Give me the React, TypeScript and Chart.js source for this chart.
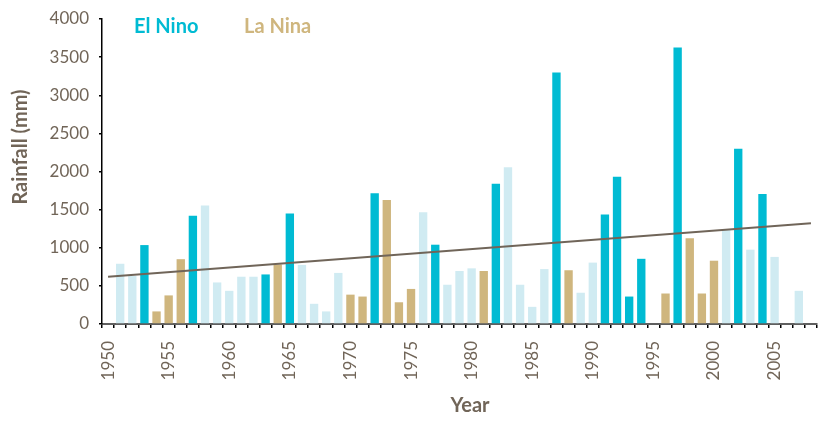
import React, { useEffect, useRef } from "react";
import { Chart, registerables } from "chart.js";

Chart.register(...registerables);

const years = [
  1950, 1951, 1952, 1953, 1954, 1955, 1956, 1957, 1958, 1959,
  1960, 1961, 1962, 1963, 1964, 1965, 1966, 1967, 1968, 1969,
  1970, 1971, 1972, 1973, 1974, 1975, 1976, 1977, 1978, 1979,
  1980, 1981, 1982, 1983, 1984, 1985, 1986, 1987, 1988, 1989,
  1990, 1991, 1992, 1993, 1994, 1995, 1996, 1997, 1998, 1999,
  2000, 2001, 2002, 2003, 2004, 2005, 2006, 2007, 2008,
];

const rainfall = [
  null, 790, 630, 1035, 165, 375, 850, 1420, 1555, 545,
  435, 620, 620, 650, 780, 1450, 775, 265, 165, 670,
  385, 360, 1715, 1625, 285, 460, 1465, 1040, 515, 695,
  730, 695, 1840, 2055, 515, 225, 720, 3300, 705, 410,
  805, 1435, 1930, 360, 855, null, 400, 3625, 1125, 400,
  830, 1235, 2300, 975, 1705, 880, null, 435, null,
];

// E = El Nino, N = La Nina, "-" = neutral
const phase = [
  "-", "-", "-", "E", "N", "N", "N", "E", "-", "-",
  "-", "-", "-", "E", "N", "E", "-", "-", "-", "-",
  "N", "N", "E", "N", "N", "N", "-", "E", "-", "-",
  "-", "N", "E", "-", "-", "-", "-", "E", "N", "-",
  "-", "E", "E", "E", "E", "-", "N", "E", "N", "N",
  "N", "-", "E", "-", "E", "-", "-", "-", "-",
];

const trendStart = 620;
const trendEnd = 1320;

const yMin = 0;
const yMax = 4000;
const yStep = 500;

const COLORS: Record<string, string> = {
  E: "#00BBD3",
  N: "#CFB67E",
  "-": "#D0EBF2",
};
const TEXT = "#716558";
const FONT = "Lato, 'Open Sans', sans-serif";

const overlayPlugin = {
  id: "overlayText",
  afterDraw(chart: any) {
    const ctx = chart.ctx;
    ctx.save();
    ctx.textBaseline = "middle";
    ctx.font = `bold 20px ${FONT}`;
    ctx.fillStyle = TEXT;
    ctx.textAlign = "center";
    ctx.fillText("Year", 470, 406);
    ctx.save();
    ctx.translate(21, 147);
    ctx.rotate(-Math.PI / 2);
    ctx.fillText("Rainfall (mm)", 0, 0);
    ctx.restore();
    ctx.textAlign = "left";
    ctx.fillStyle = COLORS.E;
    ctx.fillText("El Nino", 134, 27);
    ctx.fillStyle = COLORS.N;
    ctx.fillText("La Nina", 244, 27);
    ctx.restore();
  },
};

export default function App() {
  const ref = useRef<HTMLCanvasElement>(null);
  useEffect(() => {
    document.body.style.margin = "0";
    const trend = years.map((_, i) =>
      i === 0 ? trendStart : i === years.length - 1 ? trendEnd : null
    );
    const chart = new Chart(ref.current as HTMLCanvasElement, {
      type: "bar",
      data: {
        labels: years.map(String),
        datasets: [
          {
            type: "line",
            data: trend as any,
            borderColor: "#706559",
            borderWidth: 2,
            pointRadius: 0,
            spanGaps: true,
            fill: false,
            order: 0,
          } as any,
          {
            type: "bar",
            data: rainfall as any,
            backgroundColor: phase.map((p) => COLORS[p]),
            categoryPercentage: 1,
            barPercentage: 0.69,
            order: 1,
          } as any,
        ],
      },
      options: {
        responsive: false,
        animation: false,
        layout: { padding: { top: 19, right: 4, left: 0, bottom: 0 } },
        plugins: {
          legend: { display: false },
          tooltip: { enabled: false },
        },
        scales: {
          x: {
            afterFit: (s: any) => {
              s.height = 98;
              s.paddingLeft = 0;
              s.paddingRight = 0;
            },
            grid: {
              offset: true,
              drawOnChartArea: false,
              drawTicks: true,
              tickLength: 4,
              color: "#000",
              lineWidth: 1.5,
            },
            border: { display: true, color: "#5f5f5f", width: 2 },
            ticks: {
              autoSkip: false,
              maxRotation: 90,
              minRotation: 90,
              padding: 13,
              color: TEXT,
              font: { family: FONT, size: 17 },
              callback: (_v: any, i: number) =>
                years[i] % 5 === 0 ? String(years[i]) : "",
            },
          },
          y: {
            min: yMin,
            max: yMax,
            afterFit: (s: any) => {
              s.width = 102;
              s.paddingTop = 0;
              s.paddingBottom = 0;
            },
            grid: {
              drawOnChartArea: false,
              drawTicks: true,
              tickLength: 3,
              color: "#000",
              lineWidth: 1.5,
            },
            border: { display: true, color: "#000", width: 1.5 },
            ticks: {
              stepSize: yStep,
              padding: 10,
              color: TEXT,
              font: { family: FONT, size: 17 },
              callback: (v: any) => String(v),
            },
          },
        },
      },
      plugins: [overlayPlugin],
    });
    return () => chart.destroy();
  }, []);
  return (
    <div style={{ position: "fixed", left: 0, top: 0, width: 821, height: 422 }}>
      <canvas ref={ref} width={821} height={422} style={{ width: 821, height: 422 }} />
    </div>
  );
}
